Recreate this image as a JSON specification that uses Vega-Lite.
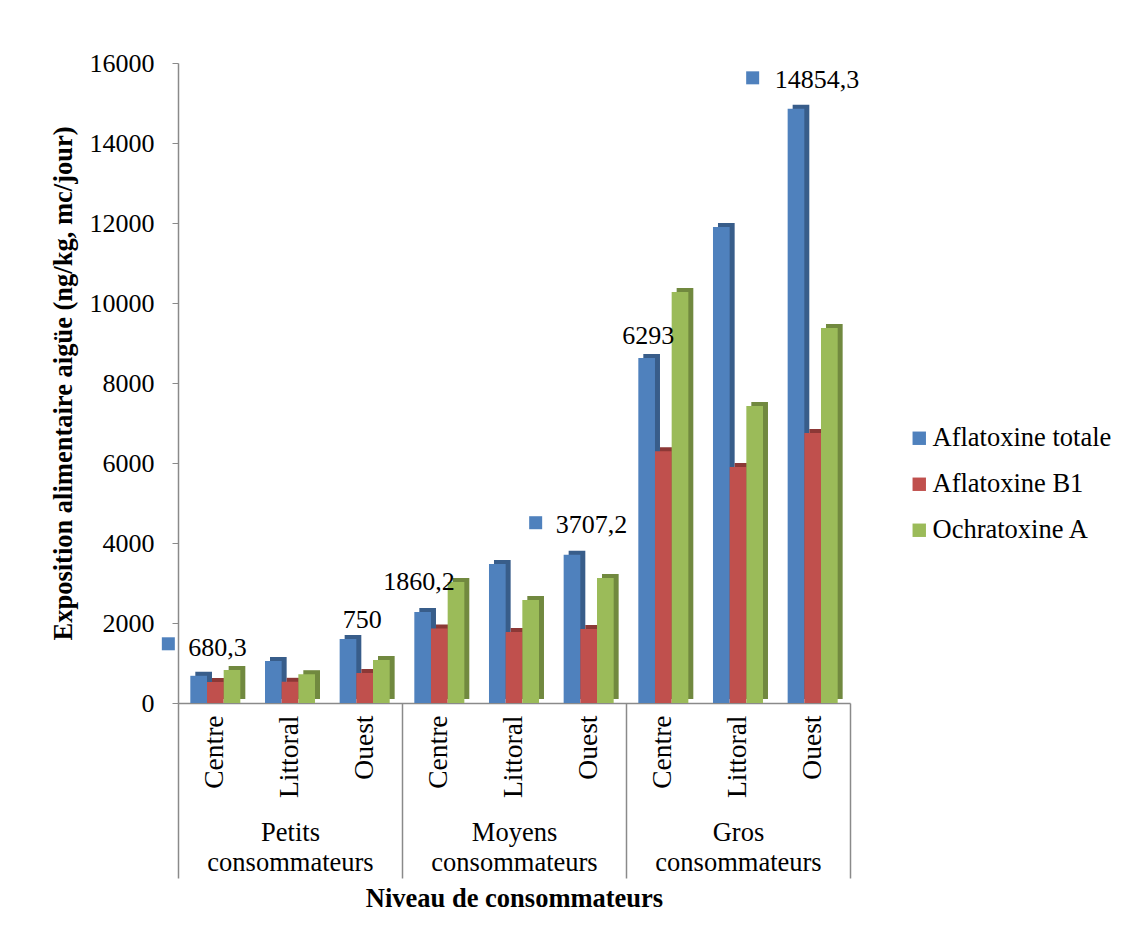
{
  "$schema": "https://vega.github.io/schema/vega-lite/v6.json",
  "width": 672,
  "height": 640,
  "autosize": {"type": "none"},
  "padding": {"left": 178, "top": 63, "right": 276, "bottom": 240},
  "background": "white",
  "config": {
    "font": "Liberation Serif",
    "view": {"stroke": null},
    "axis": {"labelFont": "Liberation Serif", "titleFont": "Liberation Serif", "labelColor": "black", "titleColor": "black", "grid": false},
    "legend": {"labelFont": "Liberation Serif", "labelColor": "black"},
    "text": {"font": "Liberation Serif"}
  },
  "datasets": {
    "bars": [
      {"group": "Petits consommateurs", "region": "Centre", "cat": "Petits|Centre", "series": "Aflatoxine totale", "value": 680.3, "label": "680,3"},
      {"group": "Petits consommateurs", "region": "Centre", "cat": "Petits|Centre", "series": "Aflatoxine B1", "value": 525},
      {"group": "Petits consommateurs", "region": "Centre", "cat": "Petits|Centre", "series": "Ochratoxine A", "value": 825},
      {"group": "Petits consommateurs", "region": "Littoral", "cat": "Petits|Littoral", "series": "Aflatoxine totale", "value": 1050},
      {"group": "Petits consommateurs", "region": "Littoral", "cat": "Petits|Littoral", "series": "Aflatoxine B1", "value": 530},
      {"group": "Petits consommateurs", "region": "Littoral", "cat": "Petits|Littoral", "series": "Ochratoxine A", "value": 720},
      {"group": "Petits consommateurs", "region": "Ouest", "cat": "Petits|Ouest", "series": "Aflatoxine totale", "value": 1600},
      {"group": "Petits consommateurs", "region": "Ouest", "cat": "Petits|Ouest", "series": "Aflatoxine B1", "value": 750, "label": "750"},
      {"group": "Petits consommateurs", "region": "Ouest", "cat": "Petits|Ouest", "series": "Ochratoxine A", "value": 1075},
      {"group": "Moyens consommateurs", "region": "Centre", "cat": "Moyens|Centre", "series": "Aflatoxine totale", "value": 2275},
      {"group": "Moyens consommateurs", "region": "Centre", "cat": "Moyens|Centre", "series": "Aflatoxine B1", "value": 1860.2, "label": "1860,2"},
      {"group": "Moyens consommateurs", "region": "Centre", "cat": "Moyens|Centre", "series": "Ochratoxine A", "value": 3025},
      {"group": "Moyens consommateurs", "region": "Littoral", "cat": "Moyens|Littoral", "series": "Aflatoxine totale", "value": 3475},
      {"group": "Moyens consommateurs", "region": "Littoral", "cat": "Moyens|Littoral", "series": "Aflatoxine B1", "value": 1775},
      {"group": "Moyens consommateurs", "region": "Littoral", "cat": "Moyens|Littoral", "series": "Ochratoxine A", "value": 2575},
      {"group": "Moyens consommateurs", "region": "Ouest", "cat": "Moyens|Ouest", "series": "Aflatoxine totale", "value": 3707.2, "label": "3707,2"},
      {"group": "Moyens consommateurs", "region": "Ouest", "cat": "Moyens|Ouest", "series": "Aflatoxine B1", "value": 1850},
      {"group": "Moyens consommateurs", "region": "Ouest", "cat": "Moyens|Ouest", "series": "Ochratoxine A", "value": 3125},
      {"group": "Gros consommateurs", "region": "Centre", "cat": "Gros|Centre", "series": "Aflatoxine totale", "value": 8625},
      {"group": "Gros consommateurs", "region": "Centre", "cat": "Gros|Centre", "series": "Aflatoxine B1", "value": 6293, "label": "6293"},
      {"group": "Gros consommateurs", "region": "Centre", "cat": "Gros|Centre", "series": "Ochratoxine A", "value": 10275},
      {"group": "Gros consommateurs", "region": "Littoral", "cat": "Gros|Littoral", "series": "Aflatoxine totale", "value": 11900},
      {"group": "Gros consommateurs", "region": "Littoral", "cat": "Gros|Littoral", "series": "Aflatoxine B1", "value": 5900},
      {"group": "Gros consommateurs", "region": "Littoral", "cat": "Gros|Littoral", "series": "Ochratoxine A", "value": 7425},
      {"group": "Gros consommateurs", "region": "Ouest", "cat": "Gros|Ouest", "series": "Aflatoxine totale", "value": 14854.3, "label": "14854,3"},
      {"group": "Gros consommateurs", "region": "Ouest", "cat": "Gros|Ouest", "series": "Aflatoxine B1", "value": 6750},
      {"group": "Gros consommateurs", "region": "Ouest", "cat": "Gros|Ouest", "series": "Ochratoxine A", "value": 9375}
    ],
    "groups": [
      {"group": "Petits consommateurs"},
      {"group": "Moyens consommateurs"},
      {"group": "Gros consommateurs"}
    ]
  },
  "layer": [
    {
      "data": {"name": "bars"},
      "encoding": {
        "x": {
          "field": "cat", "type": "nominal",
          "sort": ["Petits|Centre", "Petits|Littoral", "Petits|Ouest", "Moyens|Centre", "Moyens|Littoral", "Moyens|Ouest", "Gros|Centre", "Gros|Littoral", "Gros|Ouest"],
          "scale": {"paddingInner": 0.33, "paddingOuter": 0.165},
          "axis": {"orient": "bottom", "title": null, "labelExpr": "split(datum.label, '|')[1]", "labelAngle": -90, "labelFontSize": 27.5, "labelPadding": 12, "ticks": false, "domain": true, "domainColor": "#8a8a8a", "domainWidth": 1.5, "offset": 0}
        },
        "y": {
          "field": "value", "type": "quantitative",
          "scale": {"domain": [0, 16000], "nice": false},
          "axis": {"title": "Exposition alimentaire aigüe (ng/kg, mc/jour)", "titleFontSize": 26.5, "titleFontWeight": "bold", "titlePadding": 12, "values": [0, 2000, 4000, 6000, 8000, 10000, 12000, 14000, 16000], "format": "d", "labelFontSize": 26, "labelPadding": 18, "tickSize": 6, "tickColor": "#8a8a8a", "domainColor": "#8a8a8a", "domainWidth": 1.5}
        }
      },
      "layer": [
        {
          "mark": {"type": "bar", "yOffset": -4, "y2Offset": -4},
          "encoding": {
            "xOffset": {"field": "series", "type": "nominal", "sort": ["Aflatoxine totale", "Aflatoxine B1", "Ochratoxine A"], "scale": {"range": [5, 55]}},
            "fill": {"field": "series", "type": "nominal", "scale": {"domain": ["Aflatoxine B1", "Aflatoxine totale", "Ochratoxine A"], "range": ["#8C3836", "#385D8A", "#71893F"]}, "legend": null}
          }
        },
        {
          "mark": {"type": "bar"},
          "encoding": {
            "xOffset": {"field": "series", "type": "nominal", "sort": ["Aflatoxine totale", "Aflatoxine B1", "Ochratoxine A"]},
            "color": {
              "field": "series", "type": "nominal",
              "scale": {"domain": ["Aflatoxine totale", "Aflatoxine B1", "Ochratoxine A"], "range": ["#4F81BD", "#C0504D", "#9BBB59"]},
              "legend": {"title": null, "orient": "none", "legendX": 728, "legendY": 362, "symbolType": "square", "symbolSize": 180, "symbolStrokeWidth": 0, "labelFontSize": 26.5, "labelOffset": 0, "rowPadding": 19, "labelLimit": 300, "padding": 0}
            }
          }
        },
        {"transform": [{"filter": "datum.label == '680,3'"}], "mark": {"type": "text", "align": "left", "baseline": "middle", "dx": -27, "dy": -28, "fontSize": 26, "color": "black"}, "encoding": {"text": {"field": "label"}}},
        {"transform": [{"filter": "datum.label == '750'"}], "mark": {"type": "text", "align": "left", "baseline": "middle", "dx": -22, "dy": -53, "fontSize": 26, "color": "black"}, "encoding": {"text": {"field": "label"}}},
        {"transform": [{"filter": "datum.label == '1860,2'"}], "mark": {"type": "text", "align": "left", "baseline": "middle", "dx": -56, "dy": -47, "fontSize": 26, "color": "black"}, "encoding": {"text": {"field": "label"}}},
        {"transform": [{"filter": "datum.label == '3707,2'"}], "mark": {"type": "text", "align": "left", "baseline": "middle", "dx": -33, "dy": -30, "fontSize": 26, "color": "black"}, "encoding": {"text": {"field": "label"}}},
        {"transform": [{"filter": "datum.label == '6293'"}], "mark": {"type": "text", "align": "left", "baseline": "middle", "dx": -41, "dy": -115, "fontSize": 26, "color": "black"}, "encoding": {"text": {"field": "label"}}},
        {"transform": [{"filter": "datum.label == '14854,3'"}], "mark": {"type": "text", "align": "left", "baseline": "middle", "dx": -38, "dy": -29, "fontSize": 26, "color": "black"}, "encoding": {"text": {"field": "label"}}},
        {"transform": [{"filter": "datum.label == '680,3'"}], "mark": {"type": "point", "shape": "square", "filled": true, "size": 169, "color": "#4F81BD", "opacity": 1, "xOffset": -47, "yOffset": -32}},
        {"transform": [{"filter": "datum.label == '3707,2'"}], "mark": {"type": "point", "shape": "square", "filled": true, "size": 169, "color": "#4F81BD", "opacity": 1, "xOffset": -53, "yOffset": -32}},
        {"transform": [{"filter": "datum.label == '14854,3'"}], "mark": {"type": "point", "shape": "square", "filled": true, "size": 169, "color": "#4F81BD", "opacity": 1, "xOffset": -60, "yOffset": -31}}
      ],
      "resolve": {"scale": {"xOffset": "independent"}}
    },
    {
      "data": {"name": "groups"},
      "mark": {"type": "tick", "opacity": 0},
      "encoding": {
        "x": {
          "field": "group", "type": "nominal",
          "sort": ["Petits consommateurs", "Moyens consommateurs", "Gros consommateurs"],
          "scale": {"paddingInner": 0, "paddingOuter": 0},
          "axis": {"orient": "bottom", "title": "Niveau de consommateurs", "titleFontSize": 26.5, "titleFontWeight": "bold", "titlePadding": 7, "labelExpr": "split(datum.label, ' ')", "labelAngle": 0, "labelAlign": "center", "labelBaseline": "top", "labelFontSize": 26.5, "labelLineHeight": 30, "labelPadding": -59, "tickBand": "extent", "tickSize": 175, "tickColor": "#8a8a8a", "tickWidth": 1.5, "domain": false, "offset": 0}
        }
      }
    }
  ],
  "resolve": {"scale": {"x": "independent"}}
}
